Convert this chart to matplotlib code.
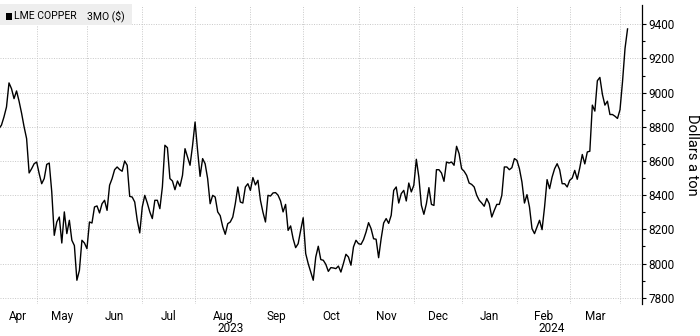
import numpy as np
import pandas as pd
import matplotlib
matplotlib.use("Agg")
import matplotlib.pyplot as plt
import matplotlib.transforms as mtransforms
from matplotlib import font_manager
from matplotlib.patches import Rectangle

# LME copper 3-month price, one value per LME trading day (Apr 5 2023 - Apr 5 2024)
start_date = "2023-04-05"
end_date = "2024-04-05"
lme_holidays = ["2023-04-07", "2023-04-10", "2023-05-01", "2023-05-08", "2023-05-29",
                "2023-08-28", "2023-12-25", "2023-12-26", "2024-01-01", "2024-03-29",
                "2024-04-01"]
copper = [
    8770, 8789, 8810, 8858, 8916, 9057, 9023, 8965, 9010, 8950,
    8880, 8800, 8731, 8530, 8555, 8584, 8594, 8526, 8467, 8497,
    8580, 8588, 8420, 8165, 8243, 8272, 8120, 8302, 8175, 8253,
    8136, 8105, 7902, 7960, 8136, 8120, 8087, 8243, 8237, 8331,
    8337, 8296, 8350, 8370, 8311, 8458, 8497, 8549, 8565, 8550,
    8540, 8600, 8575, 8393, 8389, 8360, 8253, 8179, 8331, 8399,
    8354, 8302, 8263, 8370, 8370, 8321, 8448, 8692, 8678, 8497,
    8483, 8432, 8483, 8452, 8516, 8672, 8623, 8575, 8690, 8828,
    8662, 8510, 8614, 8584, 8497, 8350, 8399, 8389, 8302, 8280,
    8215, 8171, 8233, 8243, 8272, 8350, 8448, 8360, 8354, 8448,
    8467, 8428, 8503, 8460, 8487, 8370, 8300, 8243, 8399, 8395,
    8413, 8415, 8400, 8366, 8302, 8346, 8194, 8220, 8145, 8093,
    8116, 8194, 8268, 8058, 7999, 7950, 7902, 8038, 8101, 8023,
    8019, 7995, 7954, 7976, 7974, 7970, 7985, 7950, 8000, 8054,
    8038, 7990, 8097, 8136, 8116, 8112, 8140, 8184, 8239, 8204,
    8145, 8142, 8034, 8145, 8237, 8263, 8235, 8282, 8428, 8448,
    8354, 8409, 8428, 8366, 8471, 8419, 8458, 8610, 8506, 8341,
    8288, 8350, 8444, 8346, 8340, 8549, 8549, 8530, 8481, 8594,
    8588, 8594, 8575, 8686, 8643, 8555, 8540, 8516, 8471, 8463,
    8448, 8400, 8370, 8354, 8335, 8380, 8350, 8272, 8311, 8346,
    8346, 8399, 8565, 8565, 8549, 8561, 8614, 8604, 8555, 8477,
    8354, 8403, 8331, 8204, 8175, 8214, 8253, 8198, 8331, 8491,
    8438, 8506, 8555, 8584, 8549, 8467, 8467, 8448, 8487, 8500,
    8545, 8493, 8560, 8638, 8583, 8653, 8657, 8927, 8892, 9070,
    9089, 8990, 8927, 8950, 8872, 8872, 8862, 8849, 8900, 9064,
    9259, 9373,
]
y_ticks = [7800, 8000, 8200, 8400, 8600, 8800, 9000, 9200, 9400]
legend_name = "LME COPPER"
legend_field = "3MO ($)"
y_label = "Dollars a ton"

# pick a narrow font if one is installed
fam = "DejaVu Sans"
for name in ["Liberation Sans Narrow", "Roboto"]:
    try:
        font_manager.findfont(name, fallback_to_default=False)
        fam = name
        break
    except Exception:
        pass
plt.rcParams["font.family"] = [fam, "DejaVu Sans"]

dates = pd.bdate_range(start_date, end_date)
dates = dates[~dates.isin(pd.to_datetime(lme_holidays))]
x = np.arange(len(dates))

fig = plt.figure(figsize=(7, 3.36), dpi=100)
ax = fig.add_axes([0, 32 / 336, 642 / 700, 299 / 336])

ax.plot(x, copper, color="black", linewidth=1.0, zorder=3)

x_left, x_right = 1.42, 256.75
ax.set_xlim(x_left, x_right)
ax.set_ylim(7763, 9513)

# month boundaries (first trading day of each month)
months = dates.to_period("M")
starts = [i for i in range(1, len(dates)) if months[i] != months[i - 1]]
ax.set_xticks(starts)
ax.set_xticklabels([])
ax.tick_params(axis="x", which="major", length=0)

bounds = [x_left] + starts + [x_right]
seg_months = [months[0]] + [months[i] for i in starts]
centers, labels = [], []
for m, a, b in zip(seg_months, bounds[:-1], bounds[1:]):
    if b - a >= 12:
        centers.append((a + b) / 2)
        labels.append(m.strftime("%b"))
ax.set_xticks(centers, minor=True)
ax.set_xticklabels(labels, minor=True)
ax.tick_params(axis="x", which="minor", length=0, pad=4, labelsize=8.5)

# year labels centred on the visible span of each year
trans = mtransforms.blended_transform_factory(ax.transData, ax.transAxes)
jan = [i for i in starts if dates[i].month == 1][0]
for yr, a, b in [("2023", x_left, jan), ("2024", jan, x_right)]:
    ax.text((a + b) / 2, -0.094, yr, transform=trans, ha="center", va="baseline", fontsize=8.5)

ax.yaxis.tick_right()
ax.set_yticks(y_ticks)
ax.set_yticks(np.arange(7800, 9500, 100), minor=True)
ax.tick_params(axis="y", which="major", length=3, width=0.8, pad=1.5, labelsize=8.5)
ax.tick_params(axis="y", which="minor", length=2, width=0.8)

ax.grid(True, which="major", color="#c8c8c8", linestyle=(0, (1, 1.5)), linewidth=0.7)
for s in ["top", "left", "bottom"]:
    ax.spines[s].set_visible(False)
ax.spines["right"].set_linewidth(0.9)

fig.text(692 / 700, (336 - 154.5) / 336, y_label, rotation=270, ha="center", va="center", fontsize=10.5)

# legend box in the top-left corner
fig.patches.append(Rectangle((0, (336 - 25) / 336), 132 / 700, 21 / 336,
                             transform=fig.transFigure, facecolor="#eeeeee", edgecolor="none", zorder=5))
fig.patches.append(Rectangle((5.5 / 700, (336 - 19.5) / 336), 6.5 / 700, 6.5 / 336,
                             transform=fig.transFigure, facecolor="black", edgecolor="none", zorder=6))
fig.text(14 / 700, (336 - 16) / 336, legend_name, ha="left", va="center", fontsize=7.5, zorder=7)
fig.text(87 / 700, (336 - 16) / 336, legend_field, ha="left", va="center", fontsize=7.5, zorder=7)

fig.savefig("out.png", dpi=100)
